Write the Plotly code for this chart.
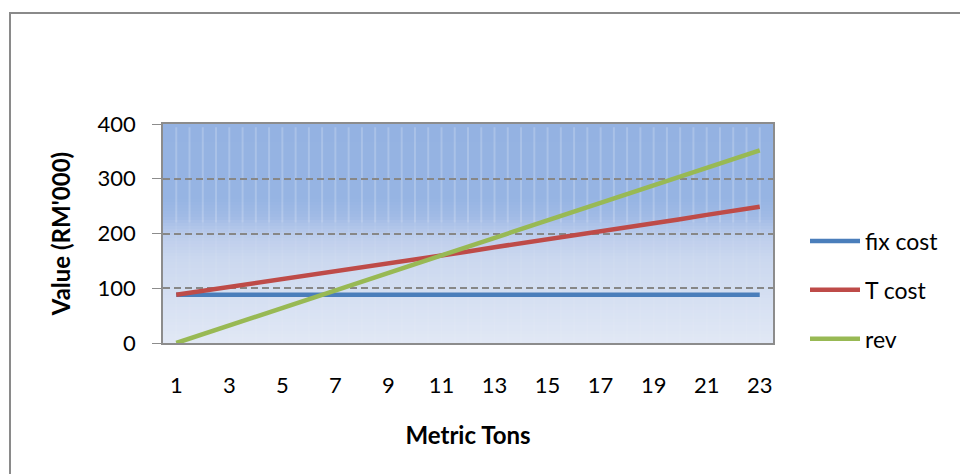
import plotly.graph_objects as go

# ---- data ----
tons = list(range(1, 24))
fix_cost = [88] * 23
t_cost = [88, 95, 103, 110, 117, 124, 131, 139, 146, 153, 160, 167,
          175, 182, 190, 197, 204, 212, 219, 226, 234, 241, 249]
rev = [0, 16, 32, 48, 64, 80, 96, 112, 128, 144, 160, 176,
       192, 208, 224, 240, 256, 272, 288, 304, 320, 336, 352]
x_ticks = [1, 3, 5, 7, 9, 11, 13, 15, 17, 19, 21, 23]
y_ticks = [0, 100, 200, 300, 400]

W, H = 960, 474
L, R, T, B = 163, 773, 124, 343
FONT = "Lato"

fig = go.Figure()
fig.add_trace(go.Scatter(x=tons, y=fix_cost, name="fix cost", mode="lines",
                         line=dict(color="#4A7EBB", width=4.5), legendgroup="a"))
fig.add_trace(go.Scatter(x=tons, y=t_cost, name="T cost", mode="lines",
                         line=dict(color="#BE4B48", width=4.5), legendgroup="b"))
fig.add_trace(go.Scatter(x=tons, y=rev, name="rev", mode="lines",
                         line=dict(color="#98B954", width=4.5), legendgroup="c"))

shapes = []
# background gradient (paper coords of the plot area)
stops = [(0.0, (225, 232, 245)), (0.38, (203, 216, 239)), (0.48, (190, 206, 236)),
         (0.58, (160, 186, 229)), (0.66, (150, 180, 227)), (1.0, (148, 178, 226))]


def col_at(f):
    for (a, ca), (b, cb) in zip(stops[:-1], stops[1:]):
        if a <= f <= b:
            t = (f - a) / (b - a)
            return tuple(round(ca[i] + (cb[i] - ca[i]) * t) for i in range(3))
    return stops[-1][1]


N = 73
for i in range(N):
    f0, f1 = i / N, (i + 1) / N
    c = col_at((f0 + f1) / 2)
    shapes.append(dict(type="rect", xref="paper", yref="paper", x0=0, x1=1, y0=f0,
                       y1=min(1.0, f1 + 0.6 / N),
                       fillcolor=f"rgb{c}", line=dict(width=0), layer="below"))
# light vertical texture stripes
k = 0
while 1 + k * 0.5 <= 23.01:
    xv = 1 + k * 0.5
    shapes.append(dict(type="line", xref="x", yref="paper", x0=xv, x1=xv, y0=0.55, y1=0.985,
                       line=dict(color="rgba(255,255,255,0.2)", width=2), layer="below"))
    shapes.append(dict(type="line", xref="x", yref="paper", x0=xv, x1=xv, y0=0.0, y1=0.55,
                       line=dict(color="rgba(255,255,255,0.06)", width=2), layer="below"))
    k += 1

# outer chart border
pw, ph = R - L, B - T
def px(x): return (x - L) / pw
def py(y): return (B - y) / ph
shapes.append(dict(type="rect", xref="paper", yref="paper", x0=px(10), x1=px(990),
                   y0=py(500), y1=py(13), line=dict(color="#8A8A8A", width=2),
                   fillcolor="rgba(0,0,0,0)"))

fig.update_layout(
    width=W, height=H,
    margin=dict(l=L, r=W - R, t=T, b=H - B, pad=0),
    paper_bgcolor="white", plot_bgcolor="rgba(0,0,0,0)",
    font=dict(family=FONT, size=22, color="#000000"),
    shapes=shapes,
    showlegend=True,
    legend=dict(x=px(805), y=py(290), xanchor="left", yanchor="middle",
                font=dict(family=FONT, size=23), tracegroupgap=16,
                bgcolor="rgba(0,0,0,0)", itemwidth=50),
    xaxis=dict(range=[0.5, 23.5], tickvals=x_ticks, ticktext=[str(v) for v in x_ticks],
               showgrid=False, zeroline=False, showline=True, linecolor="#8C8C8C",
               linewidth=1.5, mirror=True, ticks="", ticklabelstandoff=22,
               tickfont=dict(family=FONT, size=22),
               title=dict(text="<b>Metric Tons</b>", standoff=30,
                          font=dict(family=FONT, size=24)),
               automargin=False),
    yaxis=dict(range=[0, 400], tickvals=y_ticks, showgrid=True, gridcolor="#878787",
               griddash="7px,4px", gridwidth=1.5, zeroline=False, showline=True,
               linecolor="#8C8C8C", linewidth=1.5, mirror=True, ticks="outside",
               ticklen=9, tickcolor="#8C8C8C", ticklabelstandoff=12,
               tickfont=dict(family=FONT, size=22),
               title=dict(text="<b>Value (RM'000)</b>", standoff=20,
                          font=dict(family=FONT, size=24)),
               automargin=False),
)

fig.write_html("out.html")
